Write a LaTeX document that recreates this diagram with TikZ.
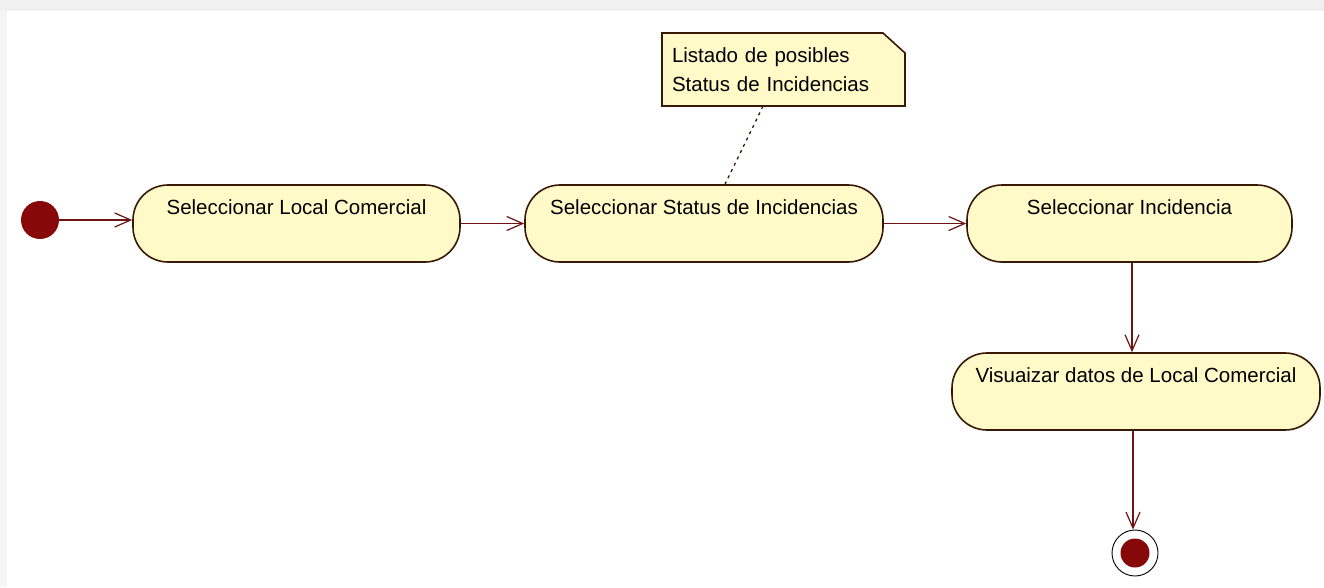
\documentclass[tikz,border=0pt]{standalone}
\usepackage{fontspec}
\setmainfont{Liberation Sans}
\usetikzlibrary{arrows.meta}
\definecolor{actfill}{RGB}{255,250,200}
\definecolor{boxline}{RGB}{55,25,5}
\definecolor{flowcol}{RGB}{110,20,20}
\definecolor{dotfill}{RGB}{135,8,8}
\tikzset{
  act/.style={draw=boxline, fill=actfill, line width=1.6pt, rounded corners=35pt,
    inner sep=0pt, text height=29pt, text depth=48pt, font=\fontsize{20.5}{24}\selectfont},
  flow/.style={draw=flowcol, line width=1.2pt, -{Straight Barb[length=16pt,width=14pt,line width=1.2pt]}},
  notetext/.style={inner xsep=10pt, inner ysep=0pt, text width=223pt, align=left,
    minimum height=73pt, font=\fontsize{20.5}{29}\selectfont},
  initstate/.style={circle, fill=dotfill, minimum size=38pt, inner sep=0pt},
  finout/.style={circle, draw=black, line width=0.9pt, fill=white, minimum size=46pt, inner sep=0pt},
  finin/.style={circle, fill=dotfill, minimum size=29pt, inner sep=0pt},
}
\begin{document}
\begin{tikzpicture}[x=1pt,y=-1pt]
\useasboundingbox (0,0) rectangle (1324,587);
\fill[white] (0,0) rectangle (1324,587);
\fill[gray!12] (0,0) rectangle (1324,11);
\fill[gray!8] (0,11) rectangle (7,587);

\node[initstate] (init) at (40,220) {};
\node[act, minimum width=327pt] (a1) at (296.5,223.5) {Seleccionar Local Comercial};
\node[act, minimum width=358pt] (a2) at (704,223.5) {Seleccionar Status de Incidencias};
\node[act, minimum width=325pt] (a3) at (1129.5,223.5) {Seleccionar Incidencia};
\node[act, minimum width=368pt] (a4) at (1136,391.5) {Visuaizar datos de Local Comercial};
\node[finout] (fin) at (1135,553) {};
\node[finin] (finc) at (fin) {};

\coordinate (notec) at (783.5,69.5);
\path[draw=boxline, fill=actfill, line width=1.6pt]
  ([shift={(-121.5,36.5)}]notec) -- ([shift={(-121.5,-36.5)}]notec) -- ([shift={(99.5,-36.5)}]notec)
  -- ([shift={(121.5,-16.5)}]notec) -- ([shift={(121.5,36.5)}]notec) -- cycle;
\node[notetext] (note) at (notec) {Listado de posibles\\Status de Incidencias};

\draw[draw=boxline, line width=1.3pt, dash pattern=on 3pt off 4pt]
  ([xshift=-20.5pt]note.south) -- ([xshift=21pt]a2.north);

\draw[flow] (init) -- (init -| a1.west);
\draw[flow] (a1.east) -- (a2.west);
\draw[flow] (a2.east) -- (a3.west);
\draw[flow] ([xshift=2.5pt]a3.south) -- ([xshift=2.5pt]a3.south |- a4.north);
\draw[flow] ([xshift=-2pt]a4.south -| fin) -- ([xshift=-2pt]fin.north);
\end{tikzpicture}
\end{document}
